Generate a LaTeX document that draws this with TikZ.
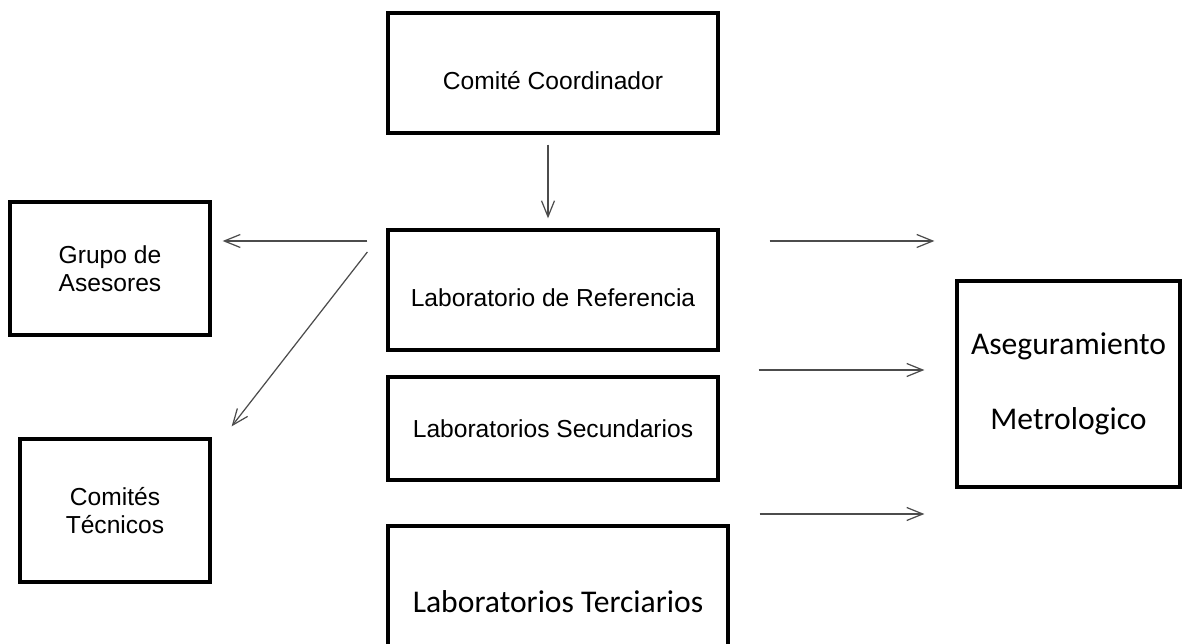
\documentclass[tikz,border=0pt]{standalone}
\usepackage{fontspec}
\setmainfont{Liberation Sans}
\newfontfamily\calibri{Carlito}
\usetikzlibrary{arrows.meta}
\usetikzlibrary{calc}
\tikzset{
  box/.style={draw, line width=1.9pt, inner sep=2pt, align=center, font=\fontsize{14}{16}\selectfont},
  calbox/.style={box, font=\calibri\fontsize{18}{22}\selectfont},
  lowtext/.style={text height=22pt, text depth=3pt},
  conn/.style={draw=black!70, line width=0.7pt, -{Straight Barb[length=3.2mm,width=2.6mm]}}
}

\begin{document}
\begin{tikzpicture}[x=0.02cm,y=-0.02cm]
        \useasboundingbox (0,0) rectangle (1185,644);
        % center column
        \node[box, lowtext, minimum width=6.6cm, minimum height=2.4cm] (coord) at (553,73) {Comité Coordinador};
        \node[box, lowtext, minimum width=6.6cm, minimum height=2.4cm] (lref) at (553,290) {Laboratorio de Referencia};
        \node[box, minimum width=6.6cm, minimum height=2.06cm] (lsec) at (553,428.5) {Laboratorios Secundarios};
        \node[calbox, minimum width=6.8cm, minimum height=3.04cm] (lter) at (558,602) {Laboratorios Terciarios};
        % left column
        \node[box, minimum width=4cm, minimum height=2.66cm] (grupo) at (110,268.5) {Grupo de\\Asesores};
        \node[box, minimum width=3.8cm, minimum height=2.86cm] (ctec) at (115,510.5) {Comités\\Técnicos};
        % right
        \node[calbox, minimum width=4.46cm, minimum height=4.12cm] (aseg) at (1068.5,384) {Aseguramiento\\[0.72cm]Metrologico};
        % arrow ends
        \coordinate (l1) at ($(lref.west)+(-19,-49)$);
        \coordinate (l2) at ($(lref.west)+(-19,-38)$);
        \coordinate (r1) at ($(lref.east)+(50,-49)$);
        \coordinate (r2) at ($(lsec.east)+(39,-58.5)$);
        \coordinate (r3) at ($(lsec.east)+(40,85.5)$);
        % arrows
        \draw[conn] ($(coord.south)+(-5,10)$) -- ($(lref.north)+(-5,-10)$);
        \draw[conn, shorten >=0.22cm] (l1) -- (l1 -| grupo.east);
        \draw[conn] (l2) -- ($(ctec.north east)+(20,-11)$);
        \draw[conn, shorten >=0.42cm] (r1) -- (r1 -| aseg.west);
        \draw[conn, shorten >=0.62cm] (r2) -- (r2 -| aseg.west);
        \draw[conn, shorten >=0.62cm] (r3) -- (r3 -| aseg.west);
\end{tikzpicture}
\end{document}
